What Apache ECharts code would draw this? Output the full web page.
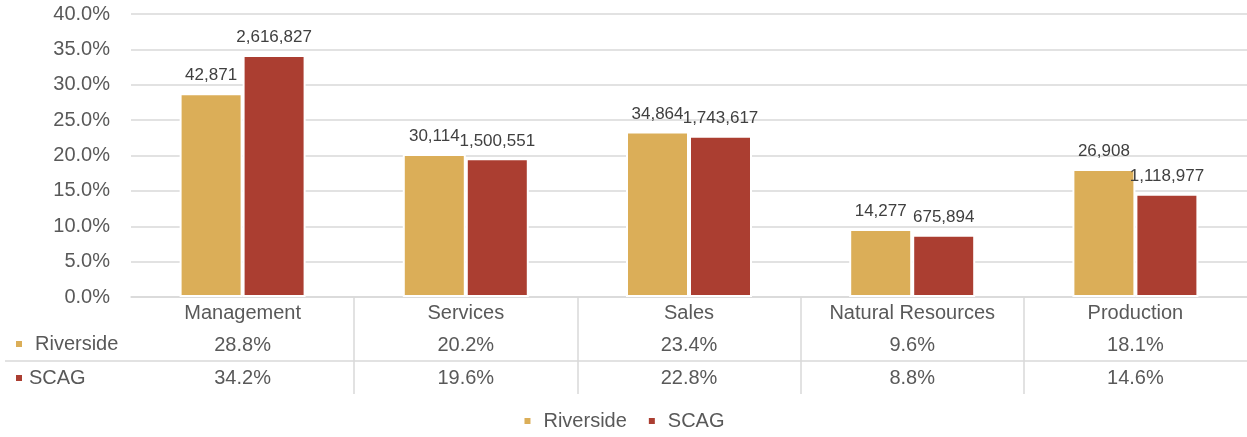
<!DOCTYPE html>
<html>
<head>
<meta charset="utf-8">
<script src="https://cdn.jsdelivr.net/npm/echarts@6/dist/echarts.min.js"></script>
<style>
  html, body { margin: 0; padding: 0; background: #fff; }
  #chart { width: 1247px; height: 437px; }
</style>
</head>
<body>
<div id="chart"></div>
<script>
var categories = ['Management', 'Services', 'Sales', 'Natural Resources', 'Production'];
var riversideShare = [28.8, 20.2, 23.4, 9.6, 18.1];
var scagShare = [34.2, 19.6, 22.8, 8.8, 14.6];
var riversideCount = ['42,871', '30,114', '34,864', '14,277', '26,908'];
var scagCount = ['2,616,827', '1,500,551', '1,743,617', '675,894', '1,118,977'];

var gold = '#DBAE58';
var red = '#AB3E31';
var grey = '#D9D9D9';
var textColor = '#595959';
var font = 'Liberation Sans';

var myChart = echarts.init(document.getElementById('chart'));

function labelFor(counts) {
    return {
        show: true,
        position: 'top',
        distance: 9,
        fontFamily: font,
        fontSize: 17,
        color: '#404040',
        formatter: function (p) { return counts[p.dataIndex]; }
    };
}

var option = {
    animation: false,
    color: [gold, red],
    textStyle: { fontFamily: font },
    grid: [
        { left: 131, right: 0, top: 14, height: 283 },
        { left: 131, right: 0, top: 297, height: 97 }
    ],
    legend: [
        {
            orient: 'vertical',
            left: 14,
            top: 334,
            padding: 0,
            icon: 'rect',
            itemWidth: 8,
            itemHeight: 8,
            itemGap: 14,
            selectedMode: false,
            textStyle: { fontFamily: font, fontSize: 20, color: textColor, lineHeight: 20 },
            data: [
                { name: 'Riverside', textStyle: { padding: [0, 0, 0, 7] } },
                { name: 'SCAG', textStyle: { padding: [0, 0, 0, 1] } }
            ]
        },
        {
            left: 'center',
            bottom: 1,
            icon: 'rect',
            itemWidth: 8,
            itemHeight: 8,
            itemGap: 20,
            selectedMode: false,
            textStyle: { fontFamily: font, fontSize: 20, color: textColor, padding: [0, 0, 0, 7] },
            data: ['Riverside', 'SCAG']
        }
    ],
    xAxis: [
        {
            type: 'category',
            gridIndex: 0,
            data: categories,
            axisLine: { lineStyle: { color: grey, width: 1.5 } },
            axisTick: { show: false },
            axisLabel: {
                margin: 0,
                interval: 0,
                formatter: function (value, index) {
                    return '{c|' + value + '}\n{v|' + riversideShare[index].toFixed(1) + '%}\n{v|' +
                        scagShare[index].toFixed(1) + '%}';
                },
                rich: {
                    c: { fontFamily: font, fontSize: 20, color: textColor, lineHeight: 32 },
                    v: { fontFamily: font, fontSize: 20, color: textColor, lineHeight: 33 }
                }
            }
        },
        {
            type: 'category',
            gridIndex: 1,
            data: categories,
            axisLine: { show: false },
            axisTick: { show: false },
            axisLabel: { show: false },
            splitLine: { show: true, showMinLine: false, showMaxLine: false, lineStyle: { color: grey, width: 1.5 } }
        }
    ],
    yAxis: [
        {
            type: 'value',
            gridIndex: 0,
            min: 0,
            max: 40,
            interval: 5,
            axisLabel: {
                margin: 21,
                fontFamily: font,
                fontSize: 20,
                color: textColor,
                formatter: function (v) { return v.toFixed(1) + '%'; }
            },
            splitLine: { lineStyle: { color: grey, width: 1.5 } }
        },
        { type: 'value', gridIndex: 1, show: false }
    ],
    graphic: [
        {
            type: 'line',
            shape: { x1: 5, y1: 361, x2: 1247, y2: 361 },
            style: { stroke: grey, lineWidth: 1.5 },
            silent: true
        }
    ],
    series: [
        {
            name: 'Riverside',
            type: 'bar',
            data: riversideShare,
            barWidth: 63,
            barGap: '0%',
            itemStyle: { color: gold, borderColor: '#fff', borderWidth: 2 },
            label: labelFor(riversideCount)
        },
        {
            name: 'SCAG',
            type: 'bar',
            data: scagShare,
            barWidth: 63,
            itemStyle: { color: red, borderColor: '#fff', borderWidth: 2 },
            label: labelFor(scagCount)
        }
    ]
};

myChart.setOption(option);
</script>
</body>
</html>
